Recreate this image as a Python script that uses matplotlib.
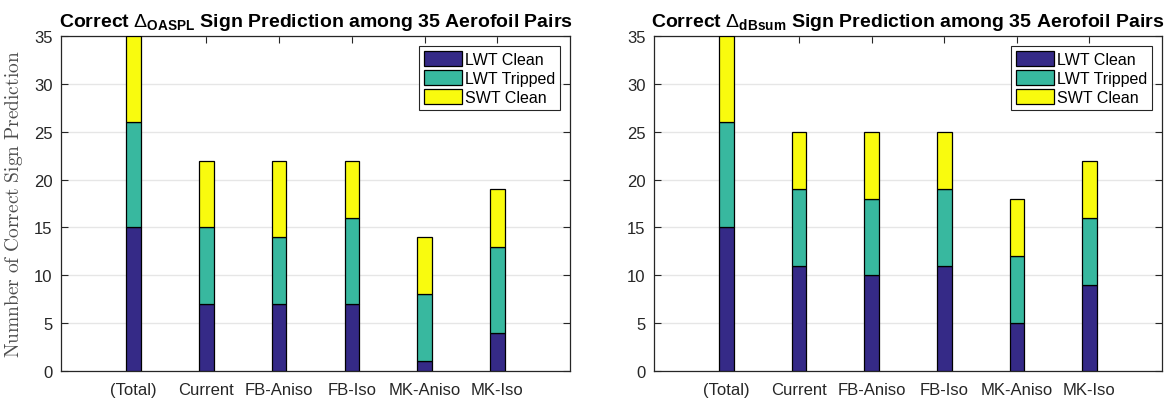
import matplotlib.pyplot as plt
import numpy as np

plt.rcParams['font.family'] = ['Liberation Sans', 'DejaVu Sans']
plt.rcParams['mathtext.fontset'] = 'custom'
plt.rcParams['mathtext.rm'] = 'Liberation Sans'
plt.rcParams['mathtext.bf'] = 'Liberation Sans:bold'

models = ['(Total)', 'Current', 'FB-Aniso', 'FB-Iso', 'MK-Aniso', 'MK-Iso']
series = ['LWT Clean', 'LWT Tripped', 'SWT Clean']
colors = ['#352a87', '#38b89f', '#f9fb0e']

# left panel: OASPL
oaspl_lwt_clean = [15, 7, 7, 7, 1, 4]
oaspl_lwt_tripped = [11, 8, 7, 9, 7, 9]
oaspl_swt_clean = [9, 7, 8, 6, 6, 6]

# right panel: dBsum
dbsum_lwt_clean = [15, 11, 10, 11, 5, 9]
dbsum_lwt_tripped = [11, 8, 8, 8, 7, 7]
dbsum_swt_clean = [9, 6, 7, 6, 6, 6]

fig = plt.figure(figsize=(11.76, 4.02), dpi=100)
ax1 = fig.add_axes([0.0519, 0.0746, 0.4328, 0.833])
ax2 = fig.add_axes([0.5561, 0.0746, 0.4320, 0.833])


def draw(ax, data, sub):
    x = np.arange(1, len(models) + 1)
    bottom = np.zeros(len(models))
    for vals, lab, c in zip(data, series, colors):
        ax.bar(x, vals, 0.2, bottom=bottom, color=c, edgecolor='black',
               linewidth=0.9, label=lab, zorder=3)
        bottom += np.array(vals)
    ax.set_xlim(0, 7)
    ax.set_ylim(0, 35)
    ax.set_xticks(x)
    ax.set_xticklabels(models)
    ax.set_yticks(range(0, 36, 5))
    ax.tick_params(labelsize=12, direction='in', top=True, right=True,
                   length=5, colors='#262626', pad=6)
    ax.tick_params(axis='x', pad=8)
    ax.grid(axis='y', color='#e6e6e6', linewidth=1, zorder=0)
    for s in ax.spines.values():
        s.set_color('#262626')
        s.set_linewidth(0.9)
    ax.set_title(r'Correct $\Delta_{\mathbf{%s}}$ Sign Prediction among 35 Aerofoil Pairs' % sub,
                 fontsize=14, fontweight='bold', pad=7)
    leg = ax.legend(loc='upper right', fontsize=11.5, fancybox=False,
                    edgecolor='#262626', framealpha=1, handlelength=2.4,
                    handleheight=1.1, handletextpad=0.2, borderpad=0.3,
                    labelspacing=0.2, borderaxespad=0.6)
    leg.get_frame().set_linewidth(0.8)


draw(ax1, [oaspl_lwt_clean, oaspl_lwt_tripped, oaspl_swt_clean], 'OASPL')
draw(ax2, [dbsum_lwt_clean, dbsum_lwt_tripped, dbsum_swt_clean], 'dBsum')

ax1.set_ylabel(r'$\mathrm{Numnber\ of\ Correct\ Sign\ Prediction}$', fontsize=14,
               math_fontfamily='cm', color='#4d4d4d')
ax1.yaxis.set_label_coords(-0.07, 0.5)

fig.savefig('out.png', dpi=100)
